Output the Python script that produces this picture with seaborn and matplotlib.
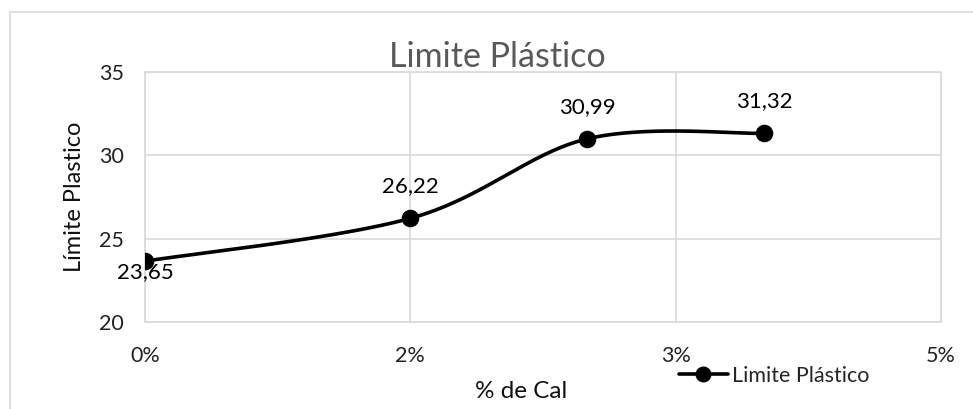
import numpy as np
import pandas as pd
import matplotlib
matplotlib.use("Agg")
import matplotlib.pyplot as plt
from matplotlib.lines import Line2D
from matplotlib.patches import Rectangle
import seaborn as sns

# Data
cal_pct = [0.0, 0.015, 0.025, 0.035]          # % de cal (fraction)
limite_plastico = [23.65, 26.22, 30.99, 31.32]
value_labels = ["23,65", "26,22", "30,99", "31,32"]
x_ticks = [0.0, 0.015, 0.03, 0.045]
x_tick_labels = ["0%", "2%", "3%", "5%"]
y_ticks = [20, 25, 30, 35]

sns.set_theme(style="white")
plt.rcParams["font.family"] = ["Lato", "DejaVu Sans"]

W, H, DPI = 973, 409, 100
fig = plt.figure(figsize=(W / DPI, H / DPI), dpi=DPI)
fig.patch.set_facecolor("white")

# chart-area border
fig.add_artist(Rectangle((10 / W, -0.05), 1.2, (409 - 12) / H + 0.05,
                         transform=fig.transFigure, fill=False,
                         edgecolor="#d9d9d9", linewidth=1.2))

ax = fig.add_axes([145 / W, (H - 322) / H, (941 - 145) / W, (322 - 72) / H])
xmin, xmax, ymin, ymax = 0.0, 0.045, 20, 35
ax.set_xlim(xmin, xmax)
ax.set_ylim(ymin, ymax)

# smoothed line (Catmull-Rom / Bezier in screen-proportional space)
sx = 796 / (xmax - xmin)
sy = 250 / (ymax - ymin)
P = np.column_stack([np.array(cal_pct) * sx, np.array(limite_plastico) * sy])
Pe = np.vstack([P[0], P, P[-1]])
t = np.linspace(0, 1, 60)[:, None]
curve = []
for i in range(len(P) - 1):
    p0, p1, p2, p3 = Pe[i], Pe[i + 1], Pe[i + 2], Pe[i + 3]
    b1 = p1 + (p2 - p0) / 6
    b2 = p2 - (p3 - p1) / 6
    seg = ((1 - t) ** 3) * p1 + 3 * ((1 - t) ** 2) * t * b1 + 3 * (1 - t) * t ** 2 * b2 + t ** 3 * p2
    curve.append(seg if i == 0 else seg[1:])
curve = np.vstack(curve)
smooth = pd.DataFrame({"x": curve[:, 0] / sx, "y": curve[:, 1] / sy})
sns.lineplot(data=smooth, x="x", y="y", ax=ax, color="black", linewidth=2.6,
             sort=False, estimator=None, zorder=3)

df = pd.DataFrame({"cal": cal_pct, "lp": limite_plastico})
sns.scatterplot(data=df, x="cal", y="lp", ax=ax, color="black", s=160,
                edgecolor="black", linewidth=0, zorder=4)

# data labels
for i, (xv, yv, lab) in enumerate(zip(cal_pct, limite_plastico, value_labels)):
    if i == 0:
        ax.annotate(lab, (xv, yv), xytext=(0, -8), textcoords="offset points",
                    ha="center", va="center", fontsize=16, color="#000000")
    else:
        ax.annotate(lab, (xv, yv), xytext=(0, 23), textcoords="offset points",
                    ha="center", va="center", fontsize=16, color="#000000")

ax.set_xticks(x_ticks)
ax.set_xticklabels(x_tick_labels)
ax.set_yticks(y_ticks)
ax.grid(True, color="#d9d9d9", linewidth=1.2)
ax.set_axisbelow(True)
for s in ax.spines.values():
    s.set_visible(True)
    s.set_color("#d9d9d9")
    s.set_linewidth(1.2)
ax.tick_params(axis="both", length=0, labelsize=15.5, colors="#222222")
ax.tick_params(axis="x", pad=17)
ax.tick_params(axis="y", pad=15)
ax.set_xlabel("")
ax.set_ylabel("Límite Plastico", fontsize=17, color="#111111", labelpad=10)

fig.text(497 / W, 1 - 57 / H, "Limite Plástico", ha="center", va="center",
         fontsize=24.5, color="#595959")
fig.text(521 / W, 1 - 392 / H, "% de Cal", ha="center", va="center",
         fontsize=17.5, color="#111111")

handle = Line2D([], [], color="black", linewidth=2.6, marker="o", markersize=10.5)
fig.legend([handle], ["Limite Plástico"], loc="center left",
           bbox_to_anchor=(670 / W, 1 - 376 / H), frameon=False,
           fontsize=15.5, handlelength=2.3, handletextpad=0.2, borderaxespad=0)

fig.savefig("out.png", dpi=DPI, facecolor="white")
